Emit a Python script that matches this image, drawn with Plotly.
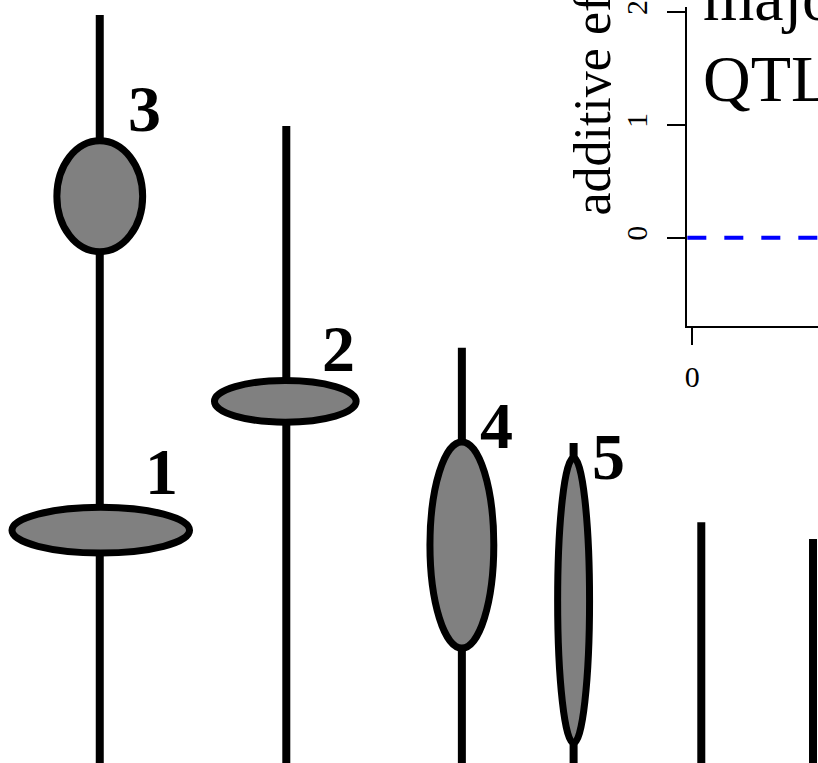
import plotly.graph_objects as go

# ---------------- data ----------------
# chromosome bars: horizontal position and top end (axis units, y grows downward)
chrom_x = [98, 285, 461, 573, 701, 813]
chrom_top = [8, 120, 344, 440, 520, 537]
chrom_end = 800

# QTL ellipses
qtl_names = ["3", "1", "2", "4", "5"]
qtl_x = [98, 99, 284, 461, 573]
qtl_y = [191, 528, 398, 543, 599]
qtl_half_w = [43, 89, 71, 32, 16]
qtl_half_h = [56, 23, 21, 104, 144]
label_x = [143, 160, 337, 496, 608]
label_y = [106, 473, 349, 426, 458]

# inset: additive effect plot
inset_y_ticks = [0, 1, 2]
inset_x_ticks = [0]
inset_hline = 0
inset_title = "additive effect"
inset_text = ["major", "QTL"]

SERIF = "Liberation Serif"

fig = go.Figure()

for cx, top in zip(chrom_x, chrom_top):
    fig.add_trace(go.Scatter(x=[cx, cx], y=[top, chrom_end], mode="lines",
                             line=dict(color="black", width=8),
                             xaxis="x", yaxis="y", hoverinfo="skip", showlegend=False))

# invisible trace to create the inset axes
fig.add_trace(go.Scatter(x=[0], y=[0], mode="markers", marker=dict(opacity=0),
                         xaxis="x2", yaxis="y2", hoverinfo="skip", showlegend=False))

shapes = []
for cx, cy, hw, hh in zip(qtl_x, qtl_y, qtl_half_w, qtl_half_h):
    shapes.append(dict(type="circle", xref="x", yref="y",
                       x0=cx - hw, x1=cx + hw, y0=cy - hh, y1=cy + hh,
                       fillcolor="#808080", line=dict(color="black", width=7), layer="above"))

shapes.append(dict(type="line", xref="x2 domain", yref="y2", x0=0, x1=1,
                   y0=inset_hline, y1=inset_hline,
                   line=dict(color="#0000ff", width=4, dash="19px,18px")))

annotations = []
for name, lx, ly in zip(qtl_names, label_x, label_y):
    annotations.append(dict(x=lx, y=ly, xref="x", yref="y", text="<b>%s</b>" % name,
                            showarrow=False, xanchor="center", yanchor="middle", yshift=4,
                            font=dict(family=SERIF, size=66, color="black")))

annotations.append(dict(x=701 / 818, y=(763 + 9.5) / 763, xref="paper", yref="paper",
                        text=inset_text[0], showarrow=False, xanchor="left", yanchor="middle",
                        font=dict(family=SERIF, size=66, color="black")))
annotations.append(dict(x=0.711, y=1.41, xref="x2", yref="y2", text=inset_text[1],
                        showarrow=False, xanchor="left", yanchor="middle",
                        font=dict(family=SERIF, size=66, color="black")))
annotations.append(dict(x=591 / 818, y=(763 - 213) / 763, xref="paper", yref="paper",
                        text=inset_title, textangle=-90, showarrow=False,
                        xanchor="center", yanchor="bottom",
                        font=dict(family=SERIF, size=52, color="black")))

fig.update_layout(
    width=818, height=763,
    margin=dict(l=0, r=0, t=0, b=0),
    paper_bgcolor="white", plot_bgcolor="white",
    showlegend=False,
    xaxis=dict(domain=[0, 1], range=[0, 818], visible=False, fixedrange=True),
    yaxis=dict(domain=[0, 1], range=[763, 0], visible=False, fixedrange=True),
    xaxis2=dict(domain=[687 / 818, 1], anchor="y2", range=[-0.4, 10],
                tickvals=inset_x_ticks, ticks="outside", ticklen=17, tickwidth=2,
                tickcolor="black", showline=True, linewidth=2, linecolor="black",
                showgrid=False, zeroline=False, ticklabelstandoff=6,
                ticklabeloverflow="allow",
                tickfont=dict(family=SERIF, size=30, color="black")),
    yaxis2=dict(domain=[(763 - 322) / 763, 1], anchor="x2", range=[-0.781, 2.044],
                tickvals=inset_y_ticks, ticks="outside", ticklen=18, tickwidth=2,
                tickcolor="black", showline=True, linewidth=2, linecolor="black",
                showgrid=False, zeroline=False, tickangle=-90, ticklabelstandoff=8,
                ticklabeloverflow="allow",
                tickfont=dict(family=SERIF, size=30, color="black")),
    shapes=shapes,
    annotations=annotations,
)

fig.write_html(
    "out.html",
    config={"displayModeBar": False},
    post_script=(
        "document.body.style.margin='0';document.body.style.overflow='hidden';"
        "var gd=document.getElementById('{plot_id}');"
        "gd.style.position='absolute';gd.style.top='0px';gd.style.left='0px';"
    ),
)
